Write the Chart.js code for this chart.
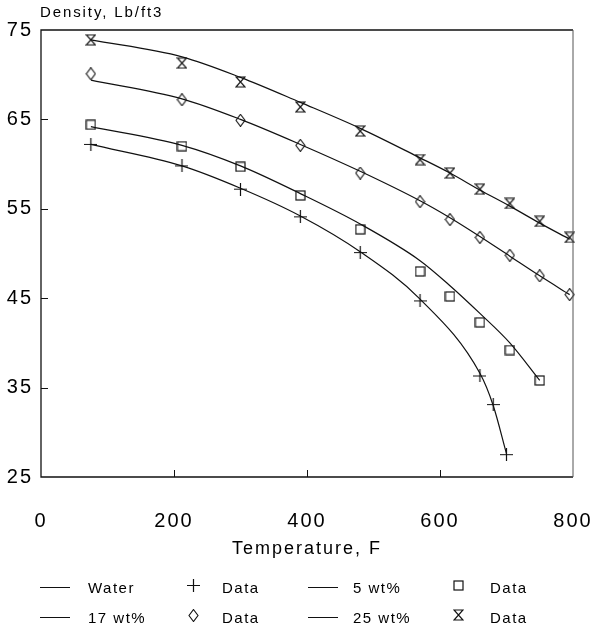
<!DOCTYPE html>
<html>
<head>
<meta charset="utf-8">
<script src="https://cdn.jsdelivr.net/npm/chart.js@4/dist/chart.umd.min.js"></script>
<style>
  html, body { margin: 0; padding: 0; background: #fff; }
  #wrap { position: relative; width: 593px; height: 631px; font-family: "Liberation Sans", Arial, sans-serif; color: #000; }
  #chart { position: absolute; left: 0; top: 0; }
  #ytitle { position: absolute; left: 40px; top: 3px; font-size: 15px; letter-spacing: 1.9px; }
  .leg { position: absolute; font-size: 15px; letter-spacing: 1.5px; line-height: 18px; white-space: nowrap; }
  .swatch { position: absolute; height: 0; border-top: 1.3px solid #111; }
  .mk { position: absolute; }
</style>
</head>
<body>
<div id="wrap">
  <canvas id="chart" width="593" height="631" style="width:593px;height:631px"></canvas>
  <div id="ytitle">Density, Lb/ft3</div>
  <div id="legend"></div>
</div>
<script>
// temperatures, F
var waterT = [75, 212, 300, 390, 480, 570, 660, 680, 700];
var waterData = [62.2, 59.8, 57.2, 54.1, 50.1, 44.7, 36.3, 33.1, 27.5];
var waterCurve = [62.2, 59.8, 57.3, 54.2, 50.2, 44.9, 36.6, 33.0, 27.6];

var wt5T = [75, 212, 300, 390, 480, 570, 615, 660, 705, 750];
var wt5Data = [64.4, 62.0, 59.7, 56.5, 52.7, 48.0, 45.2, 42.3, 39.2, 35.8];
var wt5Curve = [64.2, 62.1, 59.8, 56.7, 53.3, 49.2, 46.4, 43.3, 40.0, 35.8];

var wt17T = [75, 212, 300, 390, 480, 570, 615, 660, 705, 750, 795];
var wt17Data = [70.1, 67.2, 64.9, 62.1, 59.0, 55.8, 53.8, 51.8, 49.8, 47.5, 45.4];
var wt17Curve = [69.4, 67.3, 65.0, 62.2, 59.2, 55.9, 54.0, 51.9, 49.7, 47.5, 45.4];

var wt25T = [75, 212, 300, 390, 480, 570, 615, 660, 705, 750, 795];
var wt25Data = [73.9, 71.3, 69.2, 66.4, 63.7, 60.5, 59.0, 57.2, 55.6, 53.6, 51.8];
var wt25Curve = [73.9, 72.0, 69.7, 66.9, 64.0, 60.7, 59.0, 57.1, 55.3, 53.4, 51.6];

var xTicks = [0, 200, 400, 600, 800];
var yTicks = [25, 35, 45, 55, 65, 75];

var ink = "#111";

function pts(t, v) {
  return t.map(function (x, i) { return { x: x, y: v[i] }; });
}

// little marker pictures, used both on the chart and in the legend
function marker(kind) {
  var c = document.createElement("canvas");
  var g;
  if (kind == "plus") {
    c.width = 13; c.height = 13; g = c.getContext("2d");
    g.strokeStyle = ink; g.lineWidth = 1.2;
    g.beginPath(); g.moveTo(0, 6.5); g.lineTo(13, 6.5); g.moveTo(6.5, 0); g.lineTo(6.5, 13); g.stroke();
  } else if (kind == "square") {
    c.width = 11; c.height = 11; g = c.getContext("2d");
    g.strokeStyle = ink; g.lineWidth = 1.2;
    g.strokeRect(1, 1, 9, 9);
  } else if (kind == "diamond") {
    c.width = 11; c.height = 13; g = c.getContext("2d");
    g.strokeStyle = ink; g.lineWidth = 1.1;
    g.beginPath(); g.moveTo(5.5, 0.5); g.lineTo(10, 6.5); g.lineTo(5.5, 12.5); g.lineTo(1, 6.5); g.closePath(); g.stroke();
  } else {
    c.width = 11; c.height = 12; g = c.getContext("2d");
    g.strokeStyle = ink; g.lineWidth = 1.2;
    g.beginPath(); g.moveTo(1, 1); g.lineTo(10, 1); g.lineTo(1, 11); g.lineTo(10, 11); g.closePath(); g.stroke();
  }
  return c;
}

var mPlus = marker("plus"), mSquare = marker("square"), mDiamond = marker("diamond"), mGlass = marker("glass");

function curve(label, t, v) {
  return { label: label, data: pts(t, v), borderColor: ink, borderWidth: 1.2, pointRadius: 0,
    tension: 0.4, cubicInterpolationMode: "monotone", fill: false };
}
function dots(t, v, style) {
  return { label: "Data", data: pts(t, v), showLine: false, pointStyle: style, pointRadius: 5,
    borderColor: ink, backgroundColor: "transparent", clip: false };
}

var frame = {
  id: "frame",
  beforeDraw: function (chart) { chart.ctx.letterSpacing = "2px"; },
  afterDraw: function (chart) {
    var ctx = chart.ctx, a = chart.chartArea, xs = chart.scales.x, ys = chart.scales.y;
    ctx.save();
    ctx.letterSpacing = "0px";
    ctx.strokeStyle = ink; ctx.lineWidth = 1.3;
    ctx.beginPath();
    ctx.moveTo(a.right, a.top); ctx.lineTo(a.left, a.top); ctx.lineTo(a.left, a.bottom); ctx.lineTo(a.right, a.bottom);
    ctx.stroke();
    ctx.strokeStyle = "#555"; ctx.lineWidth = 1;
    ctx.beginPath(); ctx.moveTo(a.right, a.top); ctx.lineTo(a.right, a.bottom); ctx.stroke();
    ctx.strokeStyle = ink; ctx.lineWidth = 1;
    ctx.beginPath();
    xTicks.slice(1, -1).forEach(function (t) {
      var px = Math.round(xs.getPixelForValue(t)) + 0.5;
      ctx.moveTo(px, a.bottom); ctx.lineTo(px, a.bottom - 7);
    });
    yTicks.slice(1, -1).forEach(function (t) {
      var py = Math.round(ys.getPixelForValue(t)) + 0.5;
      ctx.moveTo(a.left, py); ctx.lineTo(a.left + 7, py);
    });
    ctx.stroke();
    ctx.restore();
  }
};

new Chart(document.getElementById("chart"), {
  type: "line",
  data: {
    datasets: [
      curve("Water", waterT, waterCurve),
      dots(waterT, waterData, mPlus),
      curve("5 wt%", wt5T, wt5Curve),
      dots(wt5T, wt5Data, mSquare),
      curve("17 wt%", wt17T, wt17Curve),
      dots(wt17T, wt17Data, mDiamond),
      curve("25 wt%", wt25T, wt25Curve),
      dots(wt25T, wt25Data, mGlass),
    ],
  },
  options: {
    responsive: false,
    animation: false,
    devicePixelRatio: 1,
    layout: { padding: { top: 30, right: 20, bottom: 68, left: 0 } },
    plugins: { legend: { display: false }, tooltip: { enabled: false } },
    scales: {
      x: {
        type: "linear", min: 0, max: 800,
        afterBuildTicks: function (s) { s.ticks = xTicks.map(function (v) { return { value: v }; }); },
        afterFit: function (s) { s.height = 86; s.paddingLeft = 0; s.paddingRight = 0; },
        grid: { display: false }, border: { display: false },
        ticks: { color: "#000", font: { family: "Liberation Sans", size: 20 }, padding: 24, maxRotation: 0 },
        title: { display: true, text: "Temperature, F", color: "#000",
          font: { family: "Liberation Sans", size: 18 }, padding: { top: 0, bottom: 3 } },
      },
      y: {
        min: 25, max: 75,
        afterBuildTicks: function (s) { s.ticks = yTicks.map(function (v) { return { value: v }; }); },
        afterFit: function (s) { s.width = 41; },
        grid: { display: false }, border: { display: false },
        ticks: { color: "#000", font: { family: "Liberation Sans", size: 20 }, padding: 0 },
      },
    },
  },
  plugins: [frame],
});

// legend below the plot
var rows = [
  [["line", "Water"], [mPlus, "Data"], ["line", "5 wt%"], [mSquare, "Data"]],
  [["line", "17 wt%"], [mDiamond, "Data"], ["line", "25 wt%"], [mGlass, "Data"]],
];
var rowY = [588, 618];
var lineX = [40, 308], markX = [193, 458], textX = [88, 222, 353, 490];
var leg = document.getElementById("legend");
rows.forEach(function (row, r) {
  row.forEach(function (item, i) {
    var sym;
    if (item[0] == "line") {
      sym = document.createElement("div");
      sym.className = "swatch";
      sym.style.left = lineX[i / 2] + "px";
      sym.style.width = "30px";
      sym.style.top = rowY[r] - 1 + "px";
    } else {
      sym = document.createElement("img");
      sym.className = "mk";
      sym.src = item[0].toDataURL();
      sym.style.left = markX[(i - 1) / 2] - item[0].width / 2 + "px";
      sym.style.top = rowY[r] - item[0].height / 2 - 3 + "px";
    }
    leg.appendChild(sym);
    var tx = document.createElement("div");
    tx.className = "leg";
    tx.textContent = item[1];
    tx.style.left = textX[i] + "px";
    tx.style.top = rowY[r] - 9 + "px";
    leg.appendChild(tx);
  });
});
</script>
</body>
</html>
